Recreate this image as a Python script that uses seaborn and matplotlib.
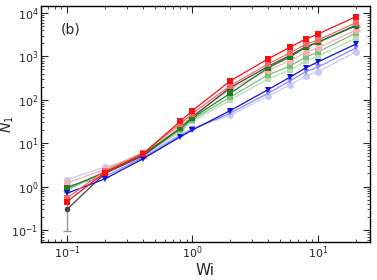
import matplotlib
matplotlib.use('Agg')
import matplotlib.pyplot as plt
import pandas as pd
import seaborn as sns

# Wi values
wi = [0.1, 0.2, 0.4, 0.8, 1.0, 2.0, 4.0, 6.0, 8.0, 10.0, 20.0]

# N1 for each series
red = [0.45, 2.1, 5.5, 32, 56, 270, 870, 1620, 2500, 3250, 8100]
salmon = [0.55, 2.3, 5.8, 28, 48, 210, 660, 1200, 1900, 2350, 5900]
pink = [1.2, 2.5, 6.0, 25, 42, 175, 480, 780, 1250, 1550, 4000]
gray = [0.3, 2.0, 5.0, 22, 40, 190, 580, 1050, 1650, 2100, 5000]
green = [0.93, 2.1, 5.5, 22, 38, 140, 540, 970, 1600, 2100, 5200]
lgreen = [0.85, 2.2, 5.3, 20, 35, 115, 370, 600, 960, 1250, 3400]
llgreen = [0.8, 2.3, 5.2, 18, 32, 98, 300, 480, 780, 1000, 2600]
blue = [0.7, 1.5, 4.3, 14, 20, 56, 170, 330, 540, 740, 1900]
lblue = [1.0, 1.7, 4.6, 15, 21, 49, 140, 270, 440, 560, 1550]
lavender = [1.45, 2.8, 5.0, 16, 22, 44, 120, 220, 350, 440, 1250]

# error bar of the gray series
gray_err_low = [0.207, 0.3, 0.5, 2, 3, 15, 40, 70, 110, 140, 300]
gray_err_high = [0.5, 0.3, 0.5, 2, 3, 15, 40, 70, 110, 140, 300]

series = [
    ('lavender', lavender, '#c8c8f4', 'o'),
    ('lblue', lblue, '#8c8cf4', 'v'),
    ('llgreen', llgreen, '#b4ddb4', 's'),
    ('lgreen', lgreen, '#7cbf7c', 's'),
    ('pink', pink, '#f8b0b0', 'o'),
    ('gray', gray, '#444444', 'o'),
    ('green', green, '#1f7f1f', 's'),
    ('blue', blue, '#1010dd', 'v'),
    ('salmon', salmon, '#f06a6a', 's'),
    ('red', red, '#ff1010', 's'),
]

sns.set_style('ticks')
plt.rcParams['font.family'] = ['DejaVu Sans']

fig = plt.figure(figsize=(3.77, 2.8), dpi=100)
ax = fig.add_axes([0.109, 0.136, 0.872, 0.843])

ax.errorbar(wi, gray, yerr=[gray_err_low, gray_err_high], fmt='none',
            ecolor='#999999', elinewidth=1, capsize=3, zorder=1)

for name, vals, col, mk in series:
    df = pd.DataFrame({'Wi': wi, 'N1': vals})
    ms = 4 if name == 'gray' else 5
    sns.lineplot(data=df, x='Wi', y='N1', ax=ax, color=col, marker=mk,
                 markersize=ms, markeredgewidth=0, linewidth=0.9)

ax.set_xscale('log')
ax.set_yscale('log')
ax.set_xlim(0.062, 26)
ax.set_ylim(0.053, 14500)

ax.set_xlabel('Wi', fontsize=11, labelpad=1)
ax.set_ylabel('$N_1$', fontsize=10)
ax.yaxis.set_label_coords(-0.075, 0.5)
ax.text(0.06, 0.93, '(b)', transform=ax.transAxes, fontsize=10, va='top')

ax.tick_params(which='both', direction='in', top=True, right=True,
               labelsize=8, pad=2)
ax.tick_params(which='major', length=5)
ax.tick_params(which='minor', length=2.5)
for s in ax.spines.values():
    s.set_linewidth(1)
    s.set_color('black')

fig.savefig('out.png', dpi=100)
